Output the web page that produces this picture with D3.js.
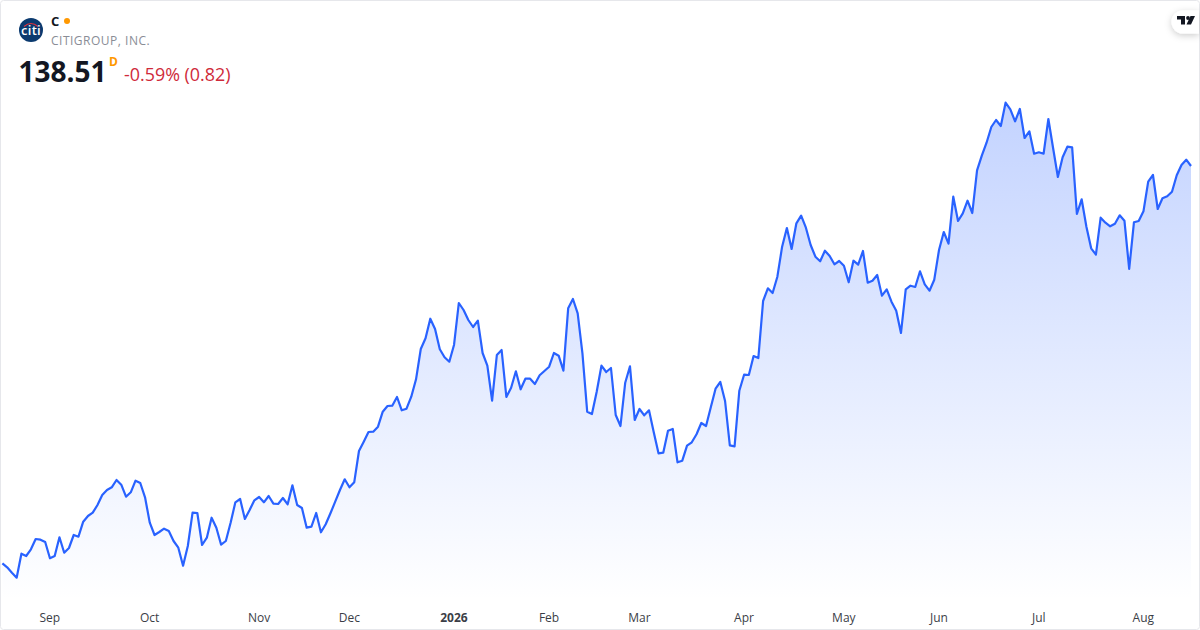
<!DOCTYPE html>
<html>
<head>
<meta charset="utf-8">
<script src="https://cdn.jsdelivr.net/npm/d3@7"></script>
<style>
  html, body { margin: 0; padding: 0; background: #fff; }
  svg { display: block; font-family: "Open Sans", sans-serif; }
  .axis path, .axis line { display: none; }
  .axis text { font-family: "Open Sans", sans-serif; font-size: 12px; fill: #3b3e47; }
</style>
</head>
<body>
<svg id="chart" width="1200" height="630"></svg>
<script>
// closing prices
var closes = [
  98.78, 98.38, 97.84, 97.34, 99.74, 99.51, 100.18, 101.21, 101.14, 100.91, 99.28, 99.51, 101.38, 99.84, 100.31, 101.61,
  101.44, 102.94, 103.51, 103.84, 104.61, 105.61, 106.11, 106.38, 107.11, 106.64, 105.44, 105.88, 107.04, 106.81, 105.38, 102.84,
  101.61, 101.91, 102.24, 102.01, 101.01, 100.34, 98.54, 100.51, 103.84, 103.81, 100.61, 101.34, 103.34, 102.34, 100.64, 101.01,
  102.84, 104.88, 105.21, 103.21, 104.11, 105.08, 105.41, 104.88, 105.51, 104.74, 104.71, 105.31, 104.68, 106.58, 104.61,
  104.31, 102.34, 102.44, 103.81, 101.88, 102.68, 103.78, 104.94, 106.11, 107.18, 106.38, 106.88, 110.01, 110.94, 111.91, 111.94,
  112.44, 113.94, 114.51, 114.54, 115.41, 114.08, 114.24, 115.44, 117.18, 120.21, 121.28, 123.24, 122.21, 120.18, 119.38, 118.94,
  120.64, 124.81, 124.11, 123.11, 122.41, 123.04, 119.81, 118.54, 115.04, 119.61, 120.11, 115.41, 116.34, 117.98, 116.18, 117.24,
  117.24, 116.71, 117.58, 118.01, 118.44, 119.81, 119.54, 118.04, 124.28, 125.21, 123.78, 119.78, 113.94, 113.71,
  115.94, 118.54, 117.91, 118.31, 113.61, 112.51, 116.84, 118.48, 113.11, 114.21, 113.58, 114.08, 111.88, 109.78, 109.84, 112.04,
  112.21, 108.88, 109.04, 110.54, 110.88, 111.68, 112.81, 112.51, 114.38, 116.24, 116.91, 115.01, 110.58, 110.48, 116.04, 117.64,
  117.61, 119.51, 119.31, 125.01, 126.28, 125.81, 127.44, 130.44, 132.31, 130.21, 132.78, 133.54, 132.34, 130.61, 129.44, 128.98,
  130.04, 129.51, 128.68, 129.01, 128.54, 126.88, 129.04, 128.64, 130.01, 126.84, 127.04, 127.61,
  125.54, 126.18, 124.94, 124.04, 121.81, 126.18, 126.54, 126.41, 127.98, 126.68, 126.04, 127.14, 130.11, 131.91, 130.74, 135.44,
  133.01, 133.78, 135.04, 133.81, 138.08, 139.54, 140.84, 142.41, 143.11, 142.51, 144.84, 144.18, 142.98, 144.21, 141.31, 141.98,
  139.74, 139.88, 139.74, 143.21, 140.28, 137.41, 139.38, 140.44, 140.38, 133.71, 135.18, 132.44, 130.28, 129.64, 133.34, 132.84,
  132.48, 132.74, 133.58, 133.04, 128.21, 132.88, 133.01, 133.98, 136.94, 137.61, 134.21, 135.28, 135.48, 135.94, 137.58, 138.61,
  139.14, 138.51
];

// session number where each label sits
var tickSessions = [10, 31, 54, 73, 95, 115, 134, 156, 177, 197, 218, 240];
var tickLabels = ["Sep", "Oct", "Nov", "Dec", "2026", "Feb", "Mar", "Apr", "May", "Jun", "Jul", "Aug"];

var width = 1200, height = 630;
var svg = d3.select("#chart");
var defs = svg.append("defs");

var x = d3.scaleLinear().domain([0, closes.length - 1]).range([2.4, 1191]);
var y = d3.scaleLinear().domain([92.11, 155.11]).range([630, 0]);
var baseline = 600;

var grad = defs.append("linearGradient").attr("id", "fade")
  .attr("gradientUnits", "userSpaceOnUse")
  .attr("x1", 0).attr("x2", 0)
  .attr("y1", y(d3.max(closes))).attr("y2", baseline);
grad.append("stop").attr("offset", 0).attr("stop-color", "#2962ff").attr("stop-opacity", 0.28);
grad.append("stop").attr("offset", 1).attr("stop-color", "#2962ff").attr("stop-opacity", 0);

var shadow = defs.append("filter").attr("id", "pill")
  .attr("x", "-40%").attr("y", "-40%").attr("width", "180%").attr("height", "200%");
shadow.append("feDropShadow").attr("dx", 0).attr("dy", 2).attr("stdDeviation", 3.5)
  .attr("flood-color", "#000").attr("flood-opacity", 0.2);

svg.append("rect").attr("width", width).attr("height", height).attr("fill", "#fff");

/* area + line */
var area = d3.area()
  .x(function(d, i) { return x(i); })
  .y0(baseline)
  .y1(function(d) { return y(d); });
var line = d3.line()
  .x(function(d, i) { return x(i); })
  .y(function(d) { return y(d); });

svg.append("path").datum(closes).attr("d", area).attr("fill", "url(#fade)");
svg.append("path").datum(closes).attr("d", line)
  .attr("fill", "none").attr("stroke", "#2962ff").attr("stroke-width", 2.2)
  .attr("stroke-linejoin", "round");

/* month labels */
var xAxis = d3.axisBottom(x)
  .tickValues(tickSessions)
  .tickSize(0)
  .tickPadding(0)
  .tickFormat(function(d, i) { return tickLabels[i]; });
var axisG = svg.append("g").attr("class", "axis")
  .attr("transform", "translate(-0.6,613)")
  .call(xAxis);
axisG.selectAll("text")
  .style("font-weight", function(d, i) { return tickLabels[i] == "2026" ? 700 : 400; });

/* frame */
svg.append("rect").attr("x", 0.5).attr("y", 0.5).attr("width", width - 1).attr("height", height - 1)
  .attr("rx", 3).attr("fill", "none").attr("stroke", "#e6e7eb");

/* header */
var logo = svg.append("g").attr("transform", "translate(31,30)");
logo.append("circle").attr("r", 12).attr("fill", "#0b3a6f");
logo.append("path").attr("d", "M-7,-3.5 Q0,-9.5 7,-3.5").attr("fill", "none").attr("stroke", "#e0313c").attr("stroke-width", 1.1);
logo.append("text").attr("y", 5).attr("text-anchor", "middle").attr("font-size", 13).attr("font-weight", 600)
  .attr("letter-spacing", 0.3).attr("fill", "#fff").text("citi");

svg.append("text").attr("x", 51).attr("y", 26).attr("font-size", 13).attr("font-weight", 700).attr("fill", "#131722").text("C");
svg.append("circle").attr("cx", 67).attr("cy", 21).attr("r", 3).attr("fill", "#ff9800");
svg.append("text").attr("x", 51).attr("y", 45).attr("font-size", 12).attr("letter-spacing", 0.5).attr("fill", "#8a8d96").text("CITIGROUP, INC.");
svg.append("text").attr("x", 18.5).attr("y", 82).attr("font-size", 28).attr("font-weight", 700).attr("fill", "#131722").text("138.51");
svg.append("text").attr("x", 109).attr("y", 66).attr("font-size", 12).attr("font-weight", 700).attr("fill", "#ff9800").text("D");
svg.append("text").attr("x", 124).attr("y", 81).attr("font-size", 17.9).attr("fill", "#cf2a3a").text("-0.59% (0.82)");

/* TradingView badge */
var badge = svg.append("g");
badge.append("path").attr("d", "M1199,10.5 H1183 a11.5,11.5 0 0 0 0,23 H1199 Z").attr("fill", "#fff").attr("filter", "url(#pill)");
badge.append("path").attr("d", "M1177,16 H1185 V24.5 H1181 V19.5 H1177 Z M1190.5,16 H1195 L1191,24.5 H1186.5 Z").attr("fill", "#131722");
badge.append("circle").attr("cx", 1188).attr("cy", 18).attr("r", 1.9).attr("fill", "#131722");
</script>
</body>
</html>
